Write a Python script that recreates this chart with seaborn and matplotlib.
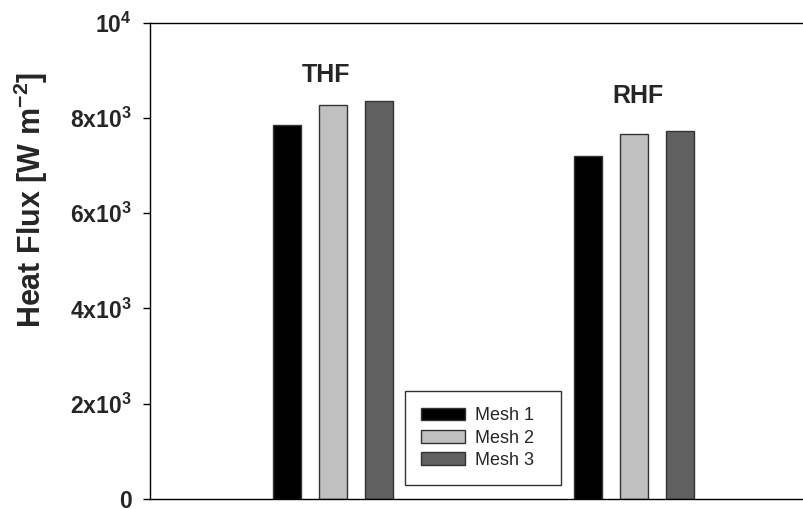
import matplotlib
matplotlib.use("Agg")
import matplotlib.pyplot as plt
import seaborn as sns
import pandas as pd

categories = ["THF", "RHF"]
meshes = ["Mesh 1", "Mesh 2", "Mesh 3"]
thf_values = [7860, 8270, 8350]
rhf_values = [7200, 7670, 7730]
colors = ["#000000", "#C0C0C0", "#606060"]
yticks = [0, 2000, 4000, 6000, 8000, 10000]
ytick_labels = ["0", r"2x10$^{3}$", r"4x10$^{3}$", r"6x10$^{3}$", r"8x10$^{3}$", r"10$^{4}$"]

rows = []
for m, v in zip(meshes, thf_values):
    rows.append({"Case": "THF", "Mesh": m, "Flux": v})
for m, v in zip(meshes, rhf_values):
    rows.append({"Case": "RHF", "Mesh": m, "Flux": v})
df = pd.DataFrame(rows)

sns.set_style("white")
plt.rcParams["font.family"] = ["Liberation Sans", "DejaVu Sans"]
plt.rcParams["mathtext.fontset"] = "custom"
plt.rcParams["mathtext.rm"] = "Liberation Sans:bold"
plt.rcParams["mathtext.it"] = "Liberation Sans:bold"
plt.rcParams["mathtext.bf"] = "Liberation Sans:bold"

fig = plt.figure(figsize=(8.04, 5.09), dpi=100)
ax = fig.add_axes([150 / 804, 1 - 499 / 509, 1 - 150 / 804, (499 - 22.7) / 509])

sns.barplot(data=df, x="Case", y="Flux", hue="Mesh", order=categories,
            hue_order=meshes, palette=colors, width=0.459, gap=0.39,
            edgecolor="#333333", linewidth=1.0, saturation=1, ax=ax)

ax.set_xlim(-0.608, 1.565)
ax.set_ylim(0, 10000)
ax.set_yticks(yticks)
ax.set_yticklabels(ytick_labels, fontsize=16.5, fontweight="bold")
ax.set_xticks([])
ax.set_xlabel("")
ax.set_ylabel(r"Heat Flux [W m$^{\mathbf{-2}}$]", fontsize=22, fontweight="bold")
ax.yaxis.set_label_coords(-0.153, 0.628)
ax.tick_params(axis="y", direction="out", length=5, width=1, color="black", left=True, pad=8)
for s in ["left", "top", "bottom"]:
    ax.spines[s].set_visible(True)
    ax.spines[s].set_color("black")
    ax.spines[s].set_linewidth(1.0)
ax.spines["right"].set_visible(False)

ax.text(-0.023, 8900, "THF", ha="center", va="center", fontsize=18, fontweight="bold")
ax.text(1.013, 8460, "RHF", ha="center", va="center", fontsize=18, fontweight="bold")

x0 = (405 - 150) / 654
y1 = (499 - 391) / 476.3
w = (561 - 405) / 654
h = (486 - 391) / 476.3
leg = ax.legend(loc="upper left", bbox_to_anchor=(x0, y1 - h, w, h), mode="expand",
                fontsize=13, frameon=True, fancybox=False, edgecolor="black",
                handlelength=2.4, handleheight=0.72, borderpad=0.9, labelspacing=0.3,
                handletextpad=0.55, borderaxespad=0)
leg.get_frame().set_linewidth(1.0)

fig.savefig("out.png", dpi=100)
